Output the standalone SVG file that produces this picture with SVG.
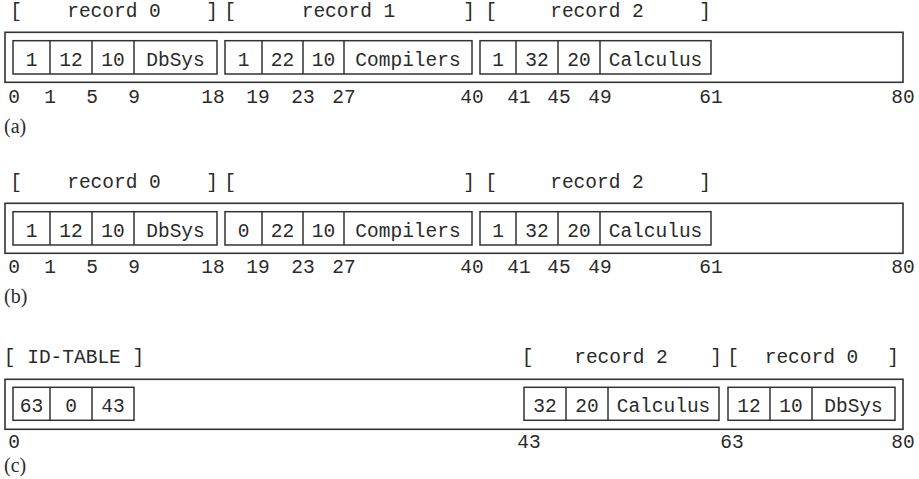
<svg xmlns="http://www.w3.org/2000/svg" width="919" height="479" viewBox="0 0 919 479">
<style>
  .frame{fill:none;stroke:#333;stroke-width:1.6}
  .cell{fill:#fff;stroke:#333;stroke-width:1.5}
  .div{stroke:#333;stroke-width:1.5}
  text{font-family:"Liberation Mono","Courier New",monospace;font-size:19.5px;fill:#2a2a2a}
  .m{text-anchor:middle}
  .cap{font-family:"Liberation Serif","Times New Roman",serif;font-size:20px}
</style>
<rect width="919" height="479" fill="#fff"/>

<!-- Panel (a) -->
<g id="panel-a">
  <g id="a-labels" class="m">
    <text x="16" y="17">[</text><text x="114" y="17">record 0</text><text x="212" y="17">]</text>
    <text x="230" y="17">[</text><text x="348.5" y="17">record 1</text><text x="469" y="17">]</text>
    <text x="491" y="17">[</text><text x="597" y="17">record 2</text><text x="705" y="17">]</text>
  </g>
  <rect id="a-file" class="frame" x="5" y="32.3" width="898" height="50"/>
  <g id="a-record0">
    <rect class="cell" x="13" y="40.7" width="204" height="33.3"/>
    <path class="div" d="M50,40.7V74M92,40.7V74M134,40.7V74"/>
    <g class="m"><text x="31.5" y="66">1</text><text x="71" y="66">12</text><text x="113" y="66">10</text><text x="175.5" y="66">DbSys</text></g>
  </g>
  <g id="a-record1">
    <rect class="cell" x="225" y="40.7" width="247" height="33.3"/>
    <path class="div" d="M262,40.7V74M303,40.7V74M344,40.7V74"/>
    <g class="m"><text x="243.5" y="66">1</text><text x="282.5" y="66">22</text><text x="323.5" y="66">10</text><text x="408" y="66">Compilers</text></g>
  </g>
  <g id="a-record2">
    <rect class="cell" x="480" y="40.7" width="231" height="33.3"/>
    <path class="div" d="M516,40.7V74M558,40.7V74M600,40.7V74"/>
    <g class="m"><text x="498" y="66">1</text><text x="537" y="66">32</text><text x="579" y="66">20</text><text x="655.5" y="66">Calculus</text></g>
  </g>
  <g id="a-offsets" class="m">
    <text x="14" y="103">0</text><text x="50" y="103">1</text><text x="92" y="103">5</text><text x="134" y="103">9</text>
    <text x="213" y="103">18</text><text x="258" y="103">19</text><text x="303" y="103">23</text><text x="344" y="103">27</text>
    <text x="472" y="103">40</text><text x="519" y="103">41</text><text x="559" y="103">45</text><text x="600" y="103">49</text>
    <text x="711" y="103">61</text><text x="903" y="103">80</text>
  </g>
  <text class="cap" x="4" y="133">(a)</text>
</g>

<!-- Panel (b) -->
<g id="panel-b">
  <g id="b-labels" class="m">
    <text x="16" y="188">[</text><text x="114" y="188">record 0</text><text x="212" y="188">]</text>
    <text x="230" y="188">[</text><text x="469" y="188">]</text>
    <text x="491" y="188">[</text><text x="597" y="188">record 2</text><text x="705" y="188">]</text>
  </g>
  <rect id="b-file" class="frame" x="5" y="203.3" width="898" height="50"/>
  <g id="b-record0">
    <rect class="cell" x="13" y="211.7" width="204" height="33.3"/>
    <path class="div" d="M50,211.7V245M92,211.7V245M134,211.7V245"/>
    <g class="m"><text x="31.5" y="237">1</text><text x="71" y="237">12</text><text x="113" y="237">10</text><text x="175.5" y="237">DbSys</text></g>
  </g>
  <g id="b-record1">
    <rect class="cell" x="225" y="211.7" width="247" height="33.3"/>
    <path class="div" d="M262,211.7V245M303,211.7V245M344,211.7V245"/>
    <g class="m"><text x="243.5" y="237">0</text><text x="282.5" y="237">22</text><text x="323.5" y="237">10</text><text x="408" y="237">Compilers</text></g>
  </g>
  <g id="b-record2">
    <rect class="cell" x="480" y="211.7" width="231" height="33.3"/>
    <path class="div" d="M516,211.7V245M558,211.7V245M600,211.7V245"/>
    <g class="m"><text x="498" y="237">1</text><text x="537" y="237">32</text><text x="579" y="237">20</text><text x="655.5" y="237">Calculus</text></g>
  </g>
  <g id="b-offsets" class="m">
    <text x="14" y="273">0</text><text x="50" y="273">1</text><text x="92" y="273">5</text><text x="134" y="273">9</text>
    <text x="213" y="273">18</text><text x="258" y="273">19</text><text x="303" y="273">23</text><text x="344" y="273">27</text>
    <text x="472" y="273">40</text><text x="519" y="273">41</text><text x="559" y="273">45</text><text x="600" y="273">49</text>
    <text x="711" y="273">61</text><text x="903" y="273">80</text>
  </g>
  <text class="cap" x="4" y="303">(b)</text>
</g>

<!-- Panel (c) -->
<g id="panel-c">
  <g id="c-labels" class="m">
    <text x="74" y="363">[ ID-TABLE ]</text>
    <text x="527.5" y="363">[</text><text x="621" y="363">record 2</text><text x="716" y="363">]</text>
    <text x="733" y="363">[</text><text x="811.5" y="363">record 0</text><text x="893" y="363">]</text>
  </g>
  <rect id="c-file" class="frame" x="5" y="379.3" width="898" height="50"/>
  <g id="c-idtable">
    <rect class="cell" x="13" y="387.3" width="121" height="33"/>
    <path class="div" d="M50,387.3V420.3M92,387.3V420.3"/>
    <g class="m"><text x="31.5" y="412">63</text><text x="71" y="412">0</text><text x="113" y="412">43</text></g>
  </g>
  <g id="c-record2">
    <rect class="cell" x="524" y="387.3" width="195" height="33"/>
    <path class="div" d="M566,387.3V420.3M608,387.3V420.3"/>
    <g class="m"><text x="545" y="412">32</text><text x="587" y="412">20</text><text x="663.5" y="412">Calculus</text></g>
  </g>
  <g id="c-record0">
    <rect class="cell" x="728" y="387.3" width="167" height="33"/>
    <path class="div" d="M770,387.3V420.3M812,387.3V420.3"/>
    <g class="m"><text x="749" y="412">12</text><text x="791" y="412">10</text><text x="853.5" y="412">DbSys</text></g>
  </g>
  <g id="c-offsets" class="m">
    <text x="14" y="448">0</text><text x="529" y="448">43</text><text x="732" y="448">63</text><text x="903" y="448">80</text>
  </g>
  <text class="cap" x="4" y="472">(c)</text>
</g>
</svg>
